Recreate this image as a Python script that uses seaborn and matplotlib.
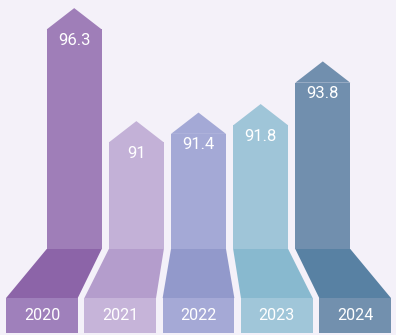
import matplotlib
matplotlib.use("Agg")
import matplotlib.pyplot as plt
import seaborn as sns
import pandas as pd
from matplotlib.patches import Polygon, Rectangle

# ---- data ----
years = ["2020", "2021", "2022", "2023", "2024"]
values = [96.3, 91.0, 91.4, 91.8, 93.8]
value_labels = ["96.3", "91", "91.4", "91.8", "93.8"]

# ---- style ----
upper_colors = ["#9f7eb8", "#c3b1d7", "#a4a9d6", "#9fc5d8", "#718fae"]
trap_colors = ["#8c64a8", "#b49dcc", "#9299cb", "#88b9cf", "#5881a3"]
box_colors = ["#9f80bb", "#c6b4d9", "#a5a9d6", "#a0c6d9", "#7290ae"]
bg = "#f4f1f9"

BASE = 85.0        # value at which the bar bodies start
HEAD = 1.0         # arrow head height in value units
BAR_W = 0.885
BOX_STEP = 1.26
BOX_W = 1.154
TRAP_BOTTOM = 82.70
BOX_BOTTOM = 81.06
LABEL_OFFSET = 1.52

sns.set_theme(style="white")
plt.rcParams["font.family"] = ["Roboto", "DejaVu Sans"]

fig = plt.figure(figsize=(3.96, 3.35), dpi=100, facecolor=bg)
ax = fig.add_axes([0, 0, 1, 1])
ax.set_facecolor(bg)

df = pd.DataFrame({"year": years, "body": [v - HEAD for v in values]})
sns.barplot(data=df, x="year", y="body", hue="year", palette=upper_colors,
            width=BAR_W, legend=False, ax=ax, saturation=1, linewidth=0)

for i, p in enumerate(ax.patches[:len(years)]):
    top = p.get_height()
    p.set_y(BASE)
    p.set_height(top - BASE)
    x0 = p.get_x()
    x1 = x0 + p.get_width()
    # arrow head
    ax.add_patch(Polygon([(x0, top), (x1, top), ((x0 + x1) / 2, values[i])],
                         closed=True, facecolor=upper_colors[i], edgecolor="none"))
    # value label
    ax.text((x0 + x1) / 2, values[i] - LABEL_OFFSET, value_labels[i], color="white",
            ha="center", va="center", fontsize=12)
    # perspective trapezoid and year box
    bc = 2 + (i - 2) * BOX_STEP
    b0, b1 = bc - BOX_W / 2, bc + BOX_W / 2
    ax.add_patch(Polygon([(x0, BASE), (x1, BASE), (b1, TRAP_BOTTOM), (b0, TRAP_BOTTOM)],
                         closed=True, facecolor=trap_colors[i], edgecolor="none"))
    ax.add_patch(Rectangle((b0, BOX_BOTTOM), BOX_W, TRAP_BOTTOM - BOX_BOTTOM,
                           facecolor=box_colors[i], edgecolor="none"))
    ax.text(bc, (TRAP_BOTTOM + BOX_BOTTOM) / 2, years[i], color="white",
            ha="center", va="center", fontsize=11.5)

ax.set_xlim(-1.194, 5.178)
ax.set_ylim(80.966, 96.68)
ax.axis("off")

fig.savefig("out.png", dpi=100, facecolor=bg)
